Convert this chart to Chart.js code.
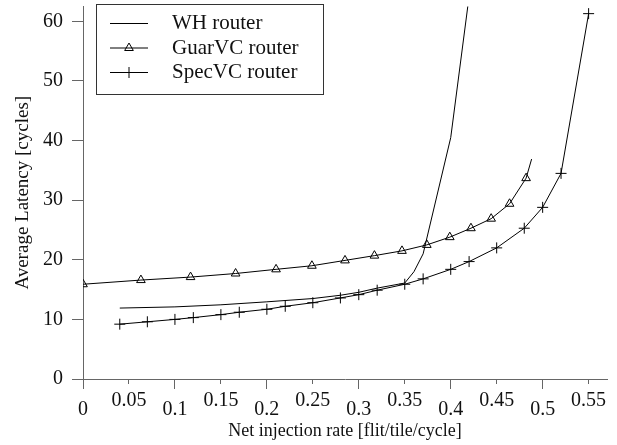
<!DOCTYPE html>
<html>
<head>
<meta charset="utf-8">
<title>Average latency vs net injection rate</title>
<script src="https://cdn.jsdelivr.net/npm/chart.js@4.4.1/dist/chart.umd.min.js"></script>
<style>
  html, body { margin: 0; padding: 0; background: #fff; }
  #chart { display: block; }
</style>
</head>
<body>
<canvas id="chart" width="617" height="445"></canvas>
<script>
// latency curves, one x/y pair of arrays per router
const whX = [0.04, 0.10, 0.15, 0.20, 0.25, 0.28, 0.30, 0.32, 0.35, 0.36, 0.37, 0.40, 0.42];
const whY = [11.9, 12.1, 12.45, 12.95, 13.5, 14.05, 14.55, 15.25, 16.1, 18.0, 21.0, 40.5, 64.2];

const guarX = [0, 0.063, 0.117, 0.166, 0.21, 0.249, 0.285, 0.317, 0.347, 0.374, 0.399, 0.422, 0.444, 0.464, 0.482, 0.488];
const guarY = [15.9, 16.6, 17.1, 17.7, 18.4, 19.0, 19.9, 20.7, 21.5, 22.5, 23.8, 25.3, 26.9, 29.4, 33.7, 36.9];

const specX = [0.04, 0.07, 0.10, 0.12, 0.15, 0.17, 0.20, 0.22, 0.25, 0.28, 0.30, 0.32, 0.35, 0.37, 0.40, 0.42, 0.45, 0.48, 0.50, 0.52, 0.55];
const specY = [9.2, 9.6, 10.0, 10.3, 10.8, 11.2, 11.7, 12.2, 12.8, 13.6, 14.15, 14.9, 15.9, 16.8, 18.4, 19.7, 22.0, 25.3, 28.8, 34.5, 61.3];

const seriesNames = ['WH router', 'GuarVC router', 'SpecVC router'];

const xTicks = [0, 0.05, 0.1, 0.15, 0.2, 0.25, 0.3, 0.35, 0.4, 0.45, 0.5, 0.55];
const xTickLabels = ['0', '0.05', '0.1', '0.15', '0.2', '0.25', '0.3', '0.35', '0.4', '0.45', '0.5', '0.55'];
const yTicks = [0, 10, 20, 30, 40, 50, 60];
const yTickLabels = ['0', '10', '20', '30', '40', '50', '60'];

const FONT = '"Liberation Serif", "Times New Roman", serif';
const AXIS = '#666';
const INK = '#111';

function toPoints(xs, ys) {
  return xs.map((x, i) => ({ x: x, y: ys[i] }));
}

// every 0.1 gets a long tick and a label sitting a bit lower
function isMajor(value) {
  return Math.round(value * 100) % 10 === 0;
}

// legend drawn as a framed box in the upper left, like the original
const boxLegend = {
  id: 'boxLegend',
  afterDraw(chart) {
    const ctx = chart.ctx;
    ctx.save();
    ctx.fillStyle = '#fff';
    ctx.fillRect(96.5, 4.5, 227, 90);
    ctx.strokeStyle = '#333';
    ctx.lineWidth = 1;
    ctx.strokeRect(96.5, 4.5, 227, 90);
    chart.data.datasets.forEach((ds, i) => {
      const y = 23.5 + i * 24.5;
      ctx.strokeStyle = ds.borderColor;
      ctx.lineWidth = 1;
      ctx.beginPath();
      ctx.moveTo(110, y);
      ctx.lineTo(148, y);
      ctx.stroke();
      const cx = 129;
      if (ds.pointStyle === 'triangle') {
        const r = 5;
        ctx.beginPath();
        ctx.moveTo(cx, y - r);
        ctx.lineTo(cx + 0.866 * r, y + 0.5 * r);
        ctx.lineTo(cx - 0.866 * r, y + 0.5 * r);
        ctx.closePath();
        ctx.stroke();
      } else if (ds.pointStyle === 'cross') {
        const r = 5.5;
        ctx.beginPath();
        ctx.moveTo(cx - r, y);
        ctx.lineTo(cx + r, y);
        ctx.moveTo(cx, y - r);
        ctx.lineTo(cx, y + r);
        ctx.stroke();
      }
      ctx.fillStyle = INK;
      ctx.font = '21px ' + FONT;
      ctx.textBaseline = 'middle';
      ctx.textAlign = 'left';
      ctx.fillText(ds.label, 172, y);
    });
    ctx.restore();
  }
};

new Chart(document.getElementById('chart'), {
  type: 'line',
  data: {
    datasets: [
      {
        label: seriesNames[0],
        data: toPoints(whX, whY),
        borderColor: '#000',
        borderWidth: 1,
        pointRadius: 0,
        pointStyle: false,
        tension: 0
      },
      {
        label: seriesNames[1],
        data: toPoints(guarX, guarY),
        borderColor: '#000',
        borderWidth: 1,
        pointStyle: 'triangle',
        pointRadius: c => (c.dataIndex === guarX.length - 1 ? 0 : 5),
        pointBorderColor: '#000',
        pointBackgroundColor: 'rgba(0,0,0,0)',
        pointBorderWidth: 1,
        tension: 0
      },
      {
        label: seriesNames[2],
        data: toPoints(specX, specY),
        borderColor: '#000',
        borderWidth: 1,
        pointStyle: 'cross',
        pointRadius: 5.5,
        pointBorderColor: '#000',
        pointBorderWidth: 1,
        tension: 0
      }
    ]
  },
  options: {
    responsive: false,
    animation: false,
    events: [],
    layout: { padding: { top: 1, right: 10, bottom: 0, left: 0 } },
    plugins: {
      legend: { display: false },
      tooltip: { enabled: false }
    },
    scales: {
      x: {
        type: 'linear',
        min: 0,
        max: 0.57,
        afterBuildTicks: s => { s.ticks = xTicks.map(v => ({ value: v })); },
        afterFit: s => { s.height = 66; s.paddingLeft = 0; s.paddingRight = 0; },
        border: { display: true, color: AXIS, width: 1 },
        grid: {
          drawOnChartArea: false,
          drawTicks: true,
          tickLength: 10,
          color: AXIS,
          tickBorderDash: c => (c.tick && !isMajor(c.tick.value) ? [4, 40] : [])
        },
        ticks: {
          autoSkip: false,
          maxRotation: 0,
          padding: 4,
          color: INK,
          font: c => ({
            family: FONT,
            size: 20,
            lineHeight: c.tick && isMajor(c.tick.value) ? '11.3px' : '16px'
          }),
          callback: (v, i) => (isMajor(v) ? ['', xTickLabels[i]] : xTickLabels[i])
        },
        title: {
          display: true,
          text: 'Net injection rate [flit/tile/cycle]',
          color: INK,
          font: { family: FONT, size: 18, lineHeight: 1.2 },
          padding: { top: 0, bottom: 3 }
        }
      },
      y: {
        type: 'linear',
        min: 0,
        max: 62.5,
        afterBuildTicks: s => { s.ticks = yTicks.map(v => ({ value: v })); },
        afterFit: s => { s.width = 83; s.paddingTop = 0; s.paddingBottom = 0; },
        border: { display: true, color: AXIS, width: 1 },
        grid: {
          drawOnChartArea: false,
          drawTicks: true,
          tickLength: 11,
          color: AXIS
        },
        ticks: {
          padding: 9,
          color: INK,
          font: { family: FONT, size: 20 },
          callback: (v, i) => yTickLabels[i]
        },
        title: {
          display: true,
          text: 'Average Latency [cycles]',
          color: INK,
          font: { family: FONT, size: 19, lineHeight: 1.2 },
          padding: { top: 12, bottom: 0 }
        }
      }
    }
  },
  plugins: [boxLegend]
});
</script>
</body>
</html>
